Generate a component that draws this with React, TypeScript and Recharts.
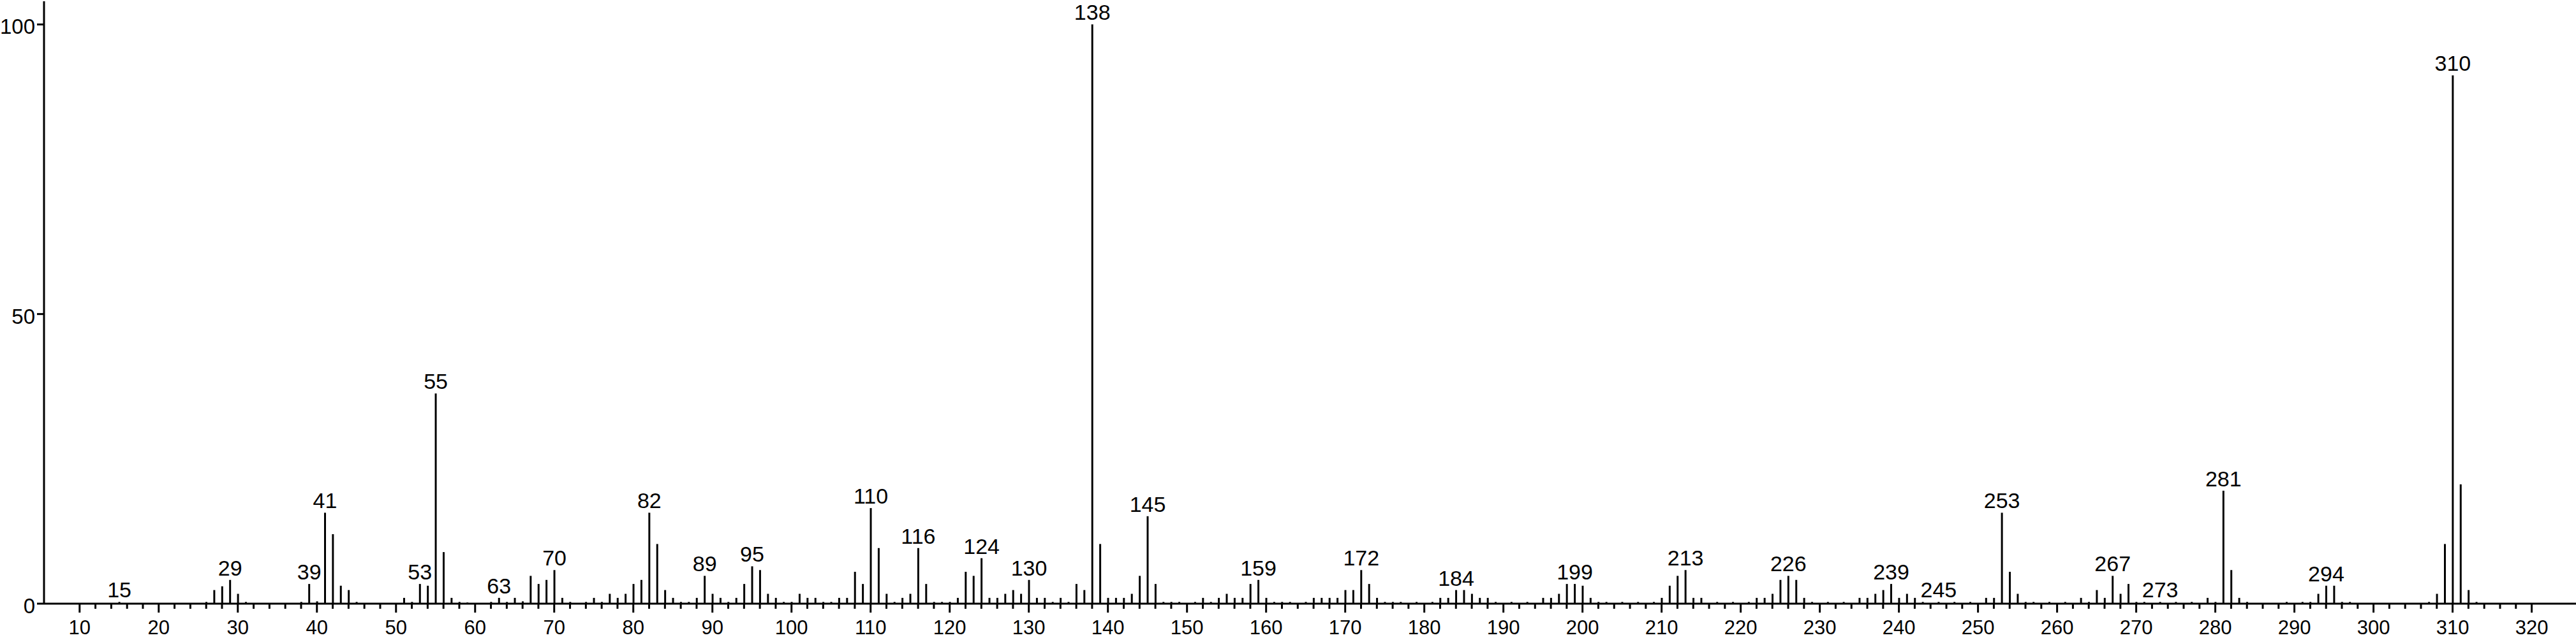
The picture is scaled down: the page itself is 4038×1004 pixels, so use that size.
import { ComposedChart, Bar, XAxis, YAxis, LabelList } from 'recharts';

// m/z of every peak drawn in the spectrum
const massValues = [
  15, 26, 27, 28, 29, 30, 31, 38, 39, 40, 41, 42, 43, 44, 45, 51, 52, 53, 54, 55,
  56, 57, 58, 59, 62, 63, 64, 65, 66, 67, 68, 69, 70, 71, 72, 74, 75, 76, 77, 78,
  79, 80, 81, 82, 83, 84, 85, 86, 87, 88, 89, 90, 91, 92, 93, 94, 95, 96, 97, 98,
  99, 100, 101, 102, 103, 104, 105, 106, 107, 108, 109, 110, 111, 112, 113, 114, 115, 116, 117, 118,
  119, 120, 121, 122, 123, 124, 125, 126, 127, 128, 129, 130, 131, 132, 133, 134, 135, 136, 137, 138,
  139, 140, 141, 142, 143, 144, 145, 146, 147, 148, 149, 151, 152, 153, 154, 155, 156, 157, 158, 159,
  160, 161, 162, 163, 165, 166, 167, 168, 169, 170, 171, 172, 173, 174, 175, 176, 177, 179, 181, 182,
  183, 184, 185, 186, 187, 188, 189, 191, 193, 195, 196, 197, 198, 199, 200, 201, 202, 203, 205, 207,
  209, 210, 211, 212, 213, 214, 215, 217, 219, 221, 222, 223, 224, 225, 226, 227, 228, 229, 231, 233,
  235, 236, 237, 238, 239, 240, 241, 242, 243, 245, 247, 249, 251, 252, 253, 254, 255, 256, 257, 259,
  261, 263, 264, 265, 266, 267, 268, 269, 270, 271, 273, 275, 277, 279, 280, 281, 282, 283, 284, 289,
  291, 292, 293, 294, 295, 296, 297, 307, 308, 309, 310, 311, 312, 313,
];

// relative abundance (%), same order as massValues
const abundances = [
  0.3, 0.3, 2.35, 3.0, 4.1, 1.7, 0.3, 0.3, 3.4, 0.4, 15.7, 12.0, 3.1, 2.35, 0.3, 1.0, 0.3, 3.4, 3.1, 36.3,
  8.9, 1.0, 0.3, 0.2, 0.3, 1.0, 0.3, 1.0, 0.4, 4.8, 3.4, 4.1, 5.8, 1.0, 0.3, 0.3, 1.0, 0.3, 1.7, 1.0,
  1.7, 3.4, 4.1, 15.7, 10.3, 2.35, 1.0, 0.3, 0.3, 1.0, 4.8, 1.7, 1.0, 0.3, 1.0, 3.4, 6.45, 5.8, 1.7, 1.0,
  0.3, 0.3, 1.7, 1.0, 1.0, 0.3, 0.3, 1.0, 1.0, 5.5, 3.4, 16.5, 9.6, 1.7, 0.3, 1.0, 1.7, 9.6, 3.4, 0.3,
  0.3, 0.3, 1.0, 5.5, 4.8, 7.85, 1.0, 1.0, 1.7, 2.35, 1.7, 4.1, 1.0, 1.0, 0.3, 1.0, 0.3, 3.4, 2.35, 100,
  10.3, 1.0, 1.0, 1.0, 1.7, 4.8, 15.1, 3.4, 0.3, 0.3, 0.3, 0.3, 1.0, 0.3, 1.0, 1.7, 1.0, 1.0, 3.4, 4.1,
  1.0, 0.3, 0.3, 0.3, 0.3, 1.0, 1.0, 1.0, 1.0, 2.35, 2.35, 5.8, 3.4, 1.0, 0.3, 0.3, 0.3, 0.3, 0.3, 1.0,
  1.0, 2.35, 2.35, 1.7, 1.0, 1.0, 0.3, 0.3, 0.3, 1.0, 1.0, 1.7, 3.4, 3.4, 3.1, 1.0, 0.3, 0.3, 0.3, 0.3,
  0.3, 1.0, 3.1, 4.8, 5.8, 1.0, 1.0, 0.3, 0.3, 0.3, 1.0, 1.0, 1.7, 4.1, 4.8, 4.1, 1.0, 0.3, 0.3, 0.3,
  1.0, 1.0, 1.7, 2.35, 3.4, 1.0, 1.7, 1.0, 0.3, 0.3, 0.3, 0.3, 1.0, 1.0, 15.7, 5.5, 1.7, 0.3, 0.3, 0.3,
  0.3, 1.0, 0.3, 2.35, 1.0, 4.8, 1.7, 3.4, 0.3, 0.3, 0.3, 0.3, 0.3, 1.0, 0.3, 19.5, 5.8, 1.0, 0.3, 0.3,
  0.3, 0.3, 1.7, 3.1, 3.1, 0.3, 0.3, 0.3, 1.7, 10.3, 91.2, 20.6, 2.35, 0.3,
];

// peaks that carry their m/z as a label
const labeledPeaks = [
  15, 29, 39, 41, 53, 55, 63, 70, 82, 89, 95, 110, 116, 124, 130, 138, 145, 159, 172, 184,
  199, 213, 226, 239, 245, 253, 267, 273, 281, 294, 310,
];

const xMajorTicks = [10, 20, 30, 40, 50, 60, 70, 80, 90, 100, 110, 120, 130, 140, 150, 160, 170, 180, 190, 200, 210, 220, 230, 240, 250, 260, 270, 280, 290, 300, 310, 320];
const yTicks = [0, 50, 100];

const xTicks: number[] = [];
for (let t = xMajorTicks[0]; t <= xMajorTicks[xMajorTicks.length - 1]; t += 2) xTicks.push(t);

const data = massValues.map((mz, i) => ({
  mz,
  abundance: abundances[i],
  label: labeledPeaks.includes(mz) ? String(mz) : undefined,
}));

const FONT = '"Liberation Sans", Arial, Helvetica, sans-serif';

const XTick = (props: any) => {
  const { x, y, payload } = props;
  const major = payload.value % 10 === 0;
  return (
    <g>
      <line x1={x} x2={x} y1={y} y2={y + (major ? 14 : 8)} stroke="#000" strokeWidth={3} />
      {major && (
        <text x={x} y={y + 48} textAnchor="middle" fontSize={31} fontFamily={FONT} fill="#000">
          {payload.value}
        </text>
      )}
    </g>
  );
};

const YTick = (props: any) => {
  const { x, y, payload } = props;
  return (
    <text x={x} y={y + 15} textAnchor="end" fontSize={33} fontFamily={FONT} fill="#000">
      {payload.value}
    </text>
  );
};

export default function App() {
  return (
    <div style={{ position: 'absolute', left: 0, top: 0, width: 4038, height: 1004, background: '#fff' }}>
      <ComposedChart width={4038} height={1004} data={data} margin={{ top: 2, right: 0, bottom: 0, left: 0 }}>
        <XAxis
          type="number"
          dataKey="mz"
          domain={[5.5, 325.6]}
          allowDataOverflow
          ticks={xTicks}
          interval={0}
          height={57}
          tickSize={0}
          tickMargin={0}
          tickLine={false}
          axisLine={{ stroke: '#000', strokeWidth: 3 }}
          tick={<XTick />}
        />
        <YAxis
          type="number"
          domain={[0, 104]}
          ticks={yTicks}
          width={69}
          tickSize={11}
          tickMargin={3}
          tickLine={{ stroke: '#000', strokeWidth: 3 }}
          axisLine={{ stroke: '#000', strokeWidth: 3 }}
          tick={<YTick />}
        />
        <Bar dataKey="abundance" barSize={3} fill="#000" isAnimationActive={false}>
          <LabelList dataKey="label" position="top" offset={7} fill="#000" fontSize={34} fontFamily={FONT} />
        </Bar>
      </ComposedChart>
    </div>
  );
}
